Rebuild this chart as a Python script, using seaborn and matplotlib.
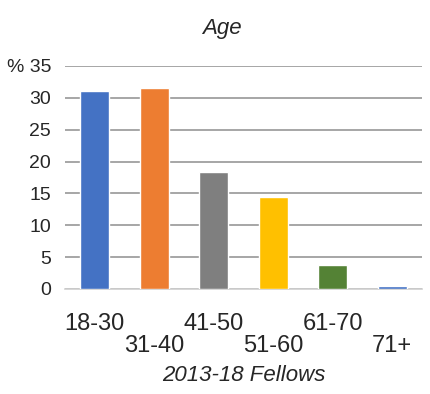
import matplotlib
matplotlib.use("Agg")
import matplotlib.pyplot as plt
import seaborn as sns
import pandas as pd
import numpy as np

# Age distribution of fellows (percent)
age_groups = ["18-30", "31-40", "41-50", "51-60", "61-70", "71+"]
percent = [31.0, 31.6, 18.3, 14.5, 3.8, 0.5]
bar_colors = ["#4472C4", "#ED7D31", "#7F7F7F", "#FFC000", "#548235", "#4472C4"]
y_ticks = [0, 5, 10, 15, 20, 25, 30, 35]
y_tick_labels = ["0", "5", "10", "15", "20", "25", "30", "% 35"]

sns.set_style("white")
plt.rcParams["font.family"] = ["Liberation Sans", "DejaVu Sans"]

df = pd.DataFrame({"age": age_groups, "pct": percent})

fig = plt.figure(figsize=(4.30, 3.94), dpi=100)
ax = fig.add_axes([0.151, 0.2665, 0.83, 0.566])

sns.barplot(data=df, x="age", y="pct", hue="age", palette=bar_colors,
            legend=False, width=0.49, ax=ax, saturation=1, zorder=3)

ax.set_ylim(0, 35)
ax.set_yticks(y_ticks)
ax.set_yticklabels(y_tick_labels, fontsize=14)
ax.yaxis.grid(True, color="#A6A6A6", linewidth=1.4, zorder=0)
ax.set_axisbelow(True)
ax.tick_params(axis="y", length=0, pad=10)

for s in ["top", "right", "left"]:
    ax.spines[s].set_visible(False)
ax.spines["bottom"].set_color("#D0D0D0")
ax.spines["bottom"].set_linewidth(1.2)

# category dividers as minor ticks
ax.set_xticks(np.arange(-0.5, len(age_groups)), minor=True)
ax.tick_params(axis="x", which="minor", length=4, color="#C8C8C8", width=1)
ax.tick_params(axis="x", which="major", length=0, labelsize=17, pad=17)
ax.set_xlim(-0.5, len(age_groups) - 0.5)

# staggered category labels
for i, tick in enumerate(ax.xaxis.get_major_ticks()):
    if i % 2 == 1:
        tick.set_pad(33)

ax.set_xlabel("2013-18 Fellows", fontsize=16, style="italic", labelpad=6)
ax.set_ylabel("")
fig.text(0.515, 0.955, "Age", fontsize=16, style="italic", ha="center", va="top")

fig.savefig("out.png", dpi=100)
